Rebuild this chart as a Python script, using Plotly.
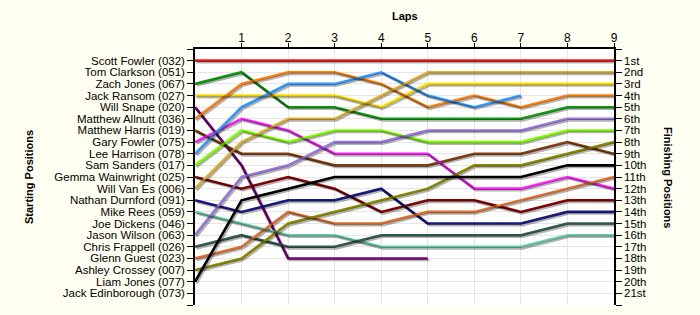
import plotly.graph_objects as go

laps = [0, 1, 2, 3, 4, 5, 6, 7, 8, 9]
lap_ticks = [1, 2, 3, 4, 5, 6, 7, 8, 9]

start_names = [
    "Scott Fowler (032)", "Tom Clarkson (051)", "Zach Jones (067)", "Jack Ransom (027)",
    "Will Snape (020)", "Matthew Allnutt (036)", "Matthew Harris (019)", "Gary Fowler (075)",
    "Lee Harrison (078)", "Sam Sanders (017)", "Gemma Wainwright (025)", "Will Van Es (006)",
    "Nathan Durnford (091)", "Mike Rees (059)", "Joe Dickens (046)", "Jason Wilson (063)",
    "Chris Frappell (026)", "Glenn Guest (023)", "Ashley Crossey (007)", "Liam Jones (077)",
    "Jack Edinborough (073)",
]
finish_labels = ["1st", "2nd", "3rd", "4th", "5th", "6th", "7th", "8th", "9th", "10th",
                 "11th", "12th", "13th", "14th", "15th", "16th", "17th", "18th", "19th",
                 "20th", "21st"]

# position per lap (lap 0 = starting grid)
scott_fowler     = [1, 1, 1, 1, 1, 1, 1, 1, 1, 1]
zach_jones       = [3, 2, 5, 5, 6, 6, 6, 6, 5, 5]
jack_ransom      = [4, 4, 4, 4, 5, 3, 3, 3, 3, 3]
will_snape       = [5, 10, 18, 18, 18, 18]
matthew_allnutt  = [6, 3, 2, 2, 3, 5, 4, 5, 4, 4]
matthew_harris   = [7, 9, 9, 10, 10, 10, 9, 9, 8, 9]
gary_fowler      = [8, 6, 7, 9, 9, 9, 12, 12, 11, 12]
lee_harrison     = [9, 5, 3, 3, 2, 4, 5, 4]
sam_sanders      = [10, 7, 8, 7, 7, 8, 8, 8, 7, 7]
gemma_wainwright = [11, 12, 11, 12, 14, 13, 13, 14, 13, 13]
will_van_es      = [12, 8, 6, 6, 4, 2, 2, 2, 2, 2]
nathan_durnford  = [13, 14, 13, 13, 12, 15, 15, 15, 14, 14]
mike_rees        = [14, 15, 16, 16, 17, 17, 17, 17, 16, 16]
jason_wilson     = [16, 11, 10, 8, 8, 7, 7, 7, 6, 6]
chris_frappell   = [17, 16, 17, 17, 16, 16, 16, 16, 15, 15]
glenn_guest      = [18, 17, 14, 15, 15, 14, 14, 13, 12, 11]
ashley_crossey   = [19, 18, 15, 14, 13, 12, 10, 10, 9, 8]
liam_jones       = [20, 13, 12, 11, 11, 11, 11, 11, 10, 10]

series = [
    ("Scott Fowler (032)", scott_fowler, "#e02020"),
    ("Zach Jones (067)", zach_jones, "#109a10"),
    ("Jack Ransom (027)", jack_ransom, "#ffe000"),
    ("Will Snape (020)", will_snape, "#800080"),
    ("Matthew Allnutt (036)", matthew_allnutt, "#ff8010"),
    ("Matthew Harris (019)", matthew_harris, "#804010"),
    ("Gary Fowler (075)", gary_fowler, "#ff20ff"),
    ("Lee Harrison (078)", lee_harrison, "#3399ff"),
    ("Sam Sanders (017)", sam_sanders, "#80ff00"),
    ("Gemma Wainwright (025)", gemma_wainwright, "#880000"),
    ("Will Van Es (006)", will_van_es, "#e0b030"),
    ("Nathan Durnford (091)", nathan_durnford, "#1a1a80"),
    ("Mike Rees (059)", mike_rees, "#66ccaa"),
    ("Jason Wilson (063)", jason_wilson, "#9977dd"),
    ("Chris Frappell (026)", chris_frappell, "#335a50"),
    ("Glenn Guest (023)", glenn_guest, "#dd7030"),
    ("Ashley Crossey (007)", ashley_crossey, "#888800"),
    ("Liam Jones (077)", liam_jones, "#000000"),
]

W, H = 700, 315
L, R, T, B = 195, 86, 49, 10
pw, ph = W - L - R, H - T - B
XR = [0, 9]
YR = [22, 0]
dx = 1.6 * (XR[1] - XR[0]) / pw
dy = 1.6 * (YR[0] - YR[1]) / ph

fig = go.Figure()

# shadows (drawn on offset overlay axes)
for name, pos, col in series:
    fig.add_trace(go.Scatter(x=laps[:len(pos)], y=pos, mode="lines",
                             line=dict(color="rgba(0,0,0,0.30)", width=2.6),
                             xaxis="x2", yaxis="y2", hoverinfo="skip", showlegend=False))
for name, pos, col in series:
    fig.add_trace(go.Scatter(x=laps[:len(pos)], y=pos, mode="lines", name=name,
                             line=dict(color=col, width=2.6), showlegend=False))

# invisible trace to anchor right axis
fig.add_trace(go.Scatter(x=[0], y=[1], yaxis="y3", mode="markers",
                         marker=dict(opacity=0), hoverinfo="skip", showlegend=False))

font = dict(family="Liberation Sans, Arial, sans-serif", size=11, color="#000000")

fig.update_layout(
    width=W, height=H,
    margin=dict(l=L, r=R, t=T, b=B, pad=0),
    paper_bgcolor="#fffff2",
    plot_bgcolor="#ffffff",
    font=font,
    xaxis=dict(range=XR, side="top", tickvals=lap_ticks, ticktext=[str(v) for v in lap_ticks],
               showgrid=True, gridcolor="#e6e6e6", gridwidth=1, zeroline=False,
               showline=True, linecolor="#000000", linewidth=1.5,
               ticks="outside", ticklen=4, tickcolor="#000000",
               ticklabelstandoff=-4,
               tickfont=dict(size=12)),
    xaxis2=dict(range=[XR[0] - dx, XR[1] - dx], overlaying="x", visible=False),
    yaxis=dict(range=YR, tickvals=list(range(0, 23)),
               ticktext=[""] + start_names + [""],
               showgrid=True, gridcolor="#e6e6e6", gridwidth=1, zeroline=False,
               showline=True, linecolor="#000000", linewidth=1.5,
               ticks="outside", ticklen=6, tickcolor="#000000",
               tickfont=dict(size=11.5)),
    yaxis2=dict(range=[YR[0] - dy, YR[1] - dy], overlaying="y", visible=False),
    yaxis3=dict(range=YR, overlaying="y", side="right", tickvals=list(range(0, 23)),
                ticktext=[""] + finish_labels + [""],
                showgrid=False, zeroline=False,
                showline=True, linecolor="#000000", linewidth=1.5,
                ticks="outside", ticklen=6, tickcolor="#000000",
                tickfont=dict(size=11.5)),
    annotations=[
        dict(text="<b>Laps</b>", x=(405 - L) / pw, y=1, xref="paper", yref="paper",
             yshift=33, yanchor="middle", showarrow=False, font=dict(size=11)),
        dict(text="<b>Starting Positions</b>", x=(29 - L) / pw, y=0.5, xref="paper", yref="paper",
             xanchor="center", showarrow=False, textangle=-90, font=dict(size=11)),
        dict(text="<b>Finishing Positions</b>", x=(668 - L) / pw, y=0.5, xref="paper", yref="paper",
             xanchor="center", showarrow=False, textangle=90, font=dict(size=11)),
    ],
)

fig.write_html("out.html")
